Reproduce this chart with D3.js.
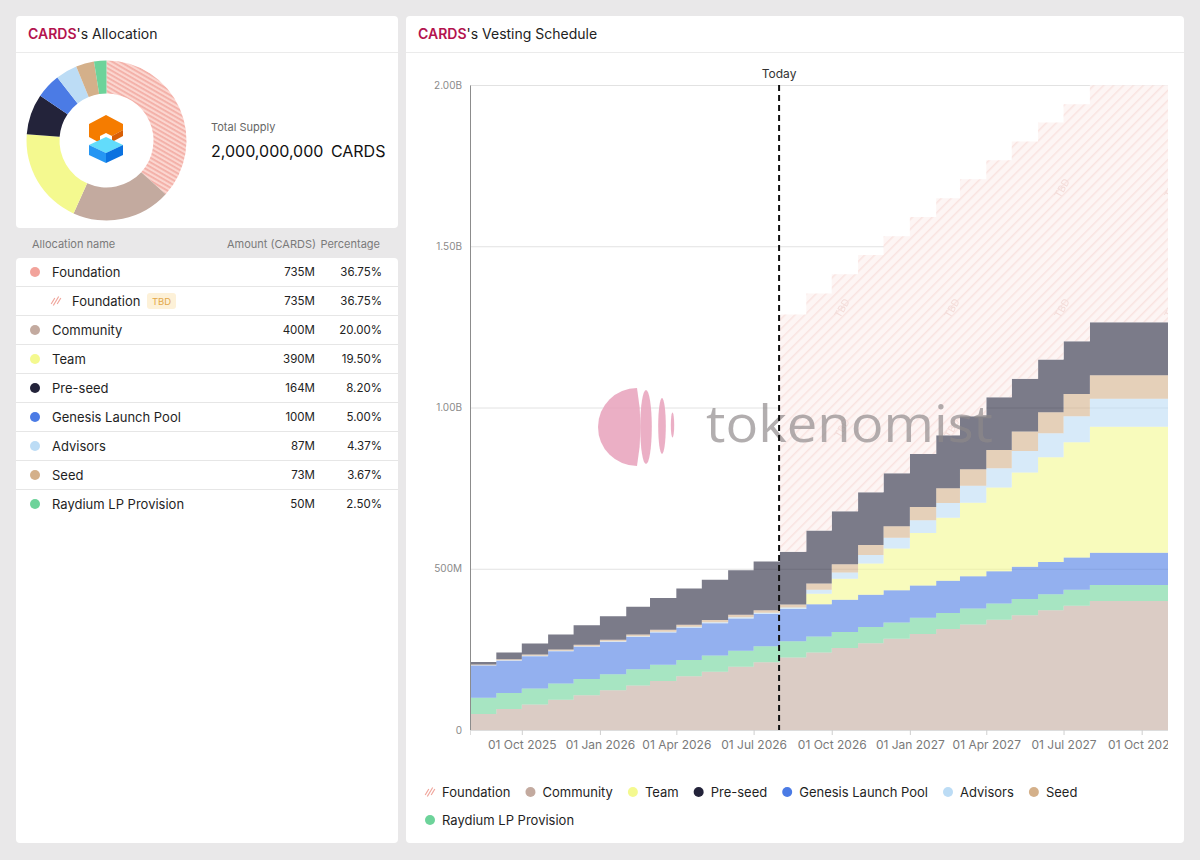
<!DOCTYPE html>
<html>
  <head>
    <meta charset="utf-8">
    <title>CARDS Vesting Schedule</title>
    <script src="https://cdn.jsdelivr.net/npm/d3@7"></script>
    <style>
      body { margin: 0; background: #e9e8e9; }
      svg { font-family: Inter, "Noto Sans", sans-serif; display: block; }
    </style>
  </head>
  <body>
    <script>
      // ==================
      // Allocation (millions of CARDS)
      // ==================
      const allocNames = ["Foundation", "Community", "Team", "Pre-seed", "Genesis Launch Pool", "Advisors", "Seed", "Raydium LP Provision"];
      const allocAmounts = [735, 400, 390, 164, 100, 87.4, 73.4, 50];
      const allocAmountLabels = ["735M", "400M", "390M", "164M", "100M", "87M", "73M", "50M"];
      const allocPercents = ["36.75%", "20.00%", "19.50%", "8.20%", "5.00%", "4.37%", "3.67%", "2.50%"];
      const allocColors = ["#f2a39b", "#c3aa9f", "#f4f98f", "#23233a", "#4b7be5", "#bcdcf5", "#d4b08a", "#6dd39a"];

      // ==================
      // Vesting schedule, cumulative unlocked per month (millions)
      // ==================
      const months = [
        "2025-08-01", "2025-09-01", "2025-10-01", "2025-11-01", "2025-12-01",
        "2026-01-01", "2026-02-01", "2026-03-01", "2026-04-01", "2026-05-01",
        "2026-06-01", "2026-07-01", "2026-08-01", "2026-09-01", "2026-10-01",
        "2026-11-01", "2026-12-01", "2027-01-01", "2027-02-01", "2027-03-01",
        "2027-04-01", "2027-05-01", "2027-06-01", "2027-07-01", "2027-08-01"
      ];
      const community = [50, 65, 79, 94, 108, 123, 138, 152, 167, 181, 196, 210, 225, 240, 254, 269, 283, 298, 313, 327, 342, 356, 371, 385, 400];
      const raydium = [50, 50, 50, 50, 50, 50, 50, 50, 50, 50, 50, 50, 50, 50, 50, 50, 50, 50, 50, 50, 50, 50, 50, 50, 50];
      const genesis = [100, 100, 100, 100, 100, 100, 100, 100, 100, 100, 100, 100, 100, 100, 100, 100, 100, 100, 100, 100, 100, 100, 100, 100, 100];
      const team = [0, 0, 0, 0, 0, 0, 0, 0, 0, 0, 0, 0, 0, 32.5, 65, 97.5, 130, 162.5, 195, 227.5, 260, 292.5, 325, 357.5, 390];
      const advisors = [1, 1, 1.5, 1.5, 2, 2, 2.5, 2.5, 3, 3, 3.5, 3.5, 5, 12, 19, 26, 33, 40, 46, 53, 60, 67, 74, 80, 87];
      const seed = [2, 3, 3.5, 4, 4.5, 5, 5.5, 6, 6.5, 7, 7.5, 8, 9, 20, 26, 31, 36, 41, 46, 51, 56, 60, 65, 69, 73];
      const preSeed = [8, 21, 34, 47, 60, 73, 86, 99, 112, 125, 138, 151, 164, 164, 164, 164, 164, 164, 164, 164, 164, 164, 164, 164, 164];
      const foundationTBD = [0, 0, 0, 0, 0, 0, 0, 0, 0, 0, 0, 0, 735, 735, 735, 735, 735, 735, 735, 735, 735, 735, 735, 735, 735];

      const xStart = "2025-08-01";
      const xEnd = "2027-11-01";
      const todayDate = "2026-07-31";
      const xTickDates = ["2025-10-01", "2026-01-01", "2026-04-01", "2026-07-01", "2026-10-01", "2027-01-01", "2027-04-01", "2027-07-01", "2027-10-01"];
      const yTickValues = [0, 500, 1000, 1500, 2000];
      const yTickLabels = ["0", "500M", "1.00B", "1.50B", "2.00B"];

      // stack order, bottom to top
      const seriesKeys = ["Community", "Raydium LP Provision", "Genesis Launch Pool", "Team", "Advisors", "Seed", "Pre-seed", "Foundation"];
      const seriesValues = [community, raydium, genesis, team, advisors, seed, preSeed, foundationTBD];
      const legendOrder = ["Foundation", "Community", "Team", "Pre-seed", "Genesis Launch Pool", "Advisors", "Seed", "Raydium LP Provision"];

      const colorOf = name => allocColors[allocNames.indexOf(name)];
      const parse = d3.utcParse("%Y-%m-%d");

      const svg = d3.select("body").append("svg")
          .attr("width", 1200)
          .attr("height", 860);
      const defs = svg.append("defs");

      // ---- patterns
      const hatch = defs.append("pattern")
          .attr("id", "hatch")
          .attr("patternUnits", "userSpaceOnUse")
          .attr("width", 7).attr("height", 7)
          .attr("patternTransform", "rotate(45)");
      hatch.append("rect").attr("width", 7).attr("height", 7).attr("fill", "#fdf5f4");
      hatch.append("rect").attr("width", 1.5).attr("height", 7).attr("fill", "#f9e3e0");

      const tbd = defs.append("pattern")
          .attr("id", "tbd")
          .attr("patternUnits", "userSpaceOnUse")
          .attr("width", 110).attr("height", 120)
          .attr("patternTransform", "translate(20,10)");
      tbd.append("text")
          .attr("transform", "translate(55,60) rotate(-60)")
          .attr("text-anchor", "middle")
          .attr("font-size", 10)
          .attr("fill", "#f3dcd9")
          .text("TBD");

      const donutHatch = defs.append("pattern")
          .attr("id", "donutHatch")
          .attr("patternUnits", "userSpaceOnUse")
          .attr("width", 4).attr("height", 4)
          .attr("patternTransform", "rotate(30)");
      donutHatch.append("rect").attr("width", 4).attr("height", 4).attr("fill", "#fbd6d0");
      donutHatch.append("rect").attr("width", 4).attr("height", 1.8).attr("fill", "#f3aea6");

      function hatchIcon(g, cx, cy) {
        [-3, 0, 3].forEach(function(o) {
          const len = o === 0 ? 4.5 : 3;
          g.append("line")
            .attr("x1", cx + o - len * 0.6).attr("y1", cy + len)
            .attr("x2", cx + o + len * 0.6).attr("y2", cy - len)
            .attr("stroke", "#f0a69d")
            .attr("stroke-width", 1.2);
        });
      }

      // ---- cards
      svg.append("rect").attr("x", 16).attr("y", 16).attr("width", 382).attr("height", 212).attr("rx", 4).attr("fill", "#fff");
      svg.append("rect").attr("x", 16).attr("y", 258).attr("width", 382).attr("height", 585).attr("rx", 4).attr("fill", "#fff");
      svg.append("rect").attr("x", 406).attr("y", 16).attr("width", 778).attr("height", 827).attr("rx", 4).attr("fill", "#fff");
      svg.append("line").attr("x1", 16).attr("x2", 398).attr("y1", 52.5).attr("y2", 52.5).attr("stroke", "#ebebeb");
      svg.append("line").attr("x1", 406).attr("x2", 1184).attr("y1", 52.5).attr("y2", 52.5).attr("stroke", "#ebebeb");

      function cardTitle(x, rest) {
        const t = svg.append("text").attr("x", x).attr("y", 39).attr("font-size", 14).attr("fill", "#222");
        t.append("tspan").attr("fill", "#b3134e").attr("font-weight", 600).text("CARDS");
        t.append("tspan").text(rest);
      }
      cardTitle(28, "'s Allocation");
      cardTitle(418, "'s Vesting Schedule");

      // ==================
      // Donut
      // ==================
      const pie = d3.pie().sort(null).value(d => d)(allocAmounts);
      const arc = d3.arc().innerRadius(47).outerRadius(80);
      const donut = svg.append("g").attr("transform", "translate(106.5,140.5)");
      donut.selectAll("path")
        .data(pie)
        .enter().append("path")
          .attr("d", arc)
          .attr("fill", (d, i) => i === 0 ? "url(#donutHatch)" : allocColors[i]);

      // token logo
      const logo = svg.append("g");
      logo.append("path").attr("d", "M89,124 L106,115 L123,124 L123,130 L112,136 L106,133 L100,136 L100,143 L89,137 Z").attr("fill", "#f57c00");
      logo.append("path").attr("d", "M112,136 L123,130 L123,136 L112,142 Z").attr("fill", "#d85f06");
      logo.append("path").attr("d", "M89,145 L106,137 L123,145 L106,153 Z").attr("fill", "#62dcfb");
      logo.append("path").attr("d", "M89,145 L106,153 L106,163 L89,155 Z").attr("fill", "#2596f3");
      logo.append("path").attr("d", "M106,153 L123,145 L123,155 L106,163 Z").attr("fill", "#0b72e0");

      svg.append("text").attr("x", 211).attr("y", 131).attr("font-size", 11).attr("fill", "#666").text("Total Supply");
      svg.append("text").attr("x", 211).attr("y", 157).attr("font-size", 16).attr("fill", "#111")
        .attr("word-spacing", 3).text("2,000,000,000 CARDS");

      // ==================
      // Table
      // ==================
      svg.append("text").attr("x", 32).attr("y", 248).attr("font-size", 11).attr("fill", "#7a7a7a").text("Allocation name");
      svg.append("text").attr("x", 316).attr("y", 248).attr("font-size", 11).attr("fill", "#7a7a7a").attr("text-anchor", "end").text("Amount (CARDS)");
      svg.append("text").attr("x", 380).attr("y", 248).attr("font-size", 11).attr("fill", "#7a7a7a").attr("text-anchor", "end").text("Percentage");

      const tableRows = [];
      allocNames.forEach(function(name, i) {
        tableRows.push({name: name, amount: allocAmountLabels[i], pct: allocPercents[i], color: allocColors[i], sub: false});
        if (i === 0) tableRows.push({name: name, amount: allocAmountLabels[i], pct: allocPercents[i], sub: true});
      });

      const rowH = 29;
      const rows = svg.append("g").selectAll("g")
        .data(tableRows)
        .enter().append("g")
          .attr("transform", (d, i) => "translate(0," + (272 + i * rowH) + ")");

      rows.filter((d, i) => i < tableRows.length - 1).append("line")
        .attr("x1", 16).attr("x2", 398).attr("y1", 14.5).attr("y2", 14.5)
        .attr("stroke", "#e6e6e6");

      rows.filter(d => !d.sub).append("circle")
        .attr("cx", 35).attr("cy", 0).attr("r", 5)
        .attr("fill", d => d.color);
      rows.filter(d => d.sub).each(function() { hatchIcon(d3.select(this), 56, 0); });

      rows.append("text")
        .attr("x", d => d.sub ? 72 : 52)
        .attr("y", 4.5)
        .attr("font-size", 13)
        .attr("fill", "#1f1f1f")
        .text(d => d.name);

      rows.filter(d => d.sub).append("rect")
        .attr("x", 147).attr("y", -8).attr("width", 29).attr("height", 16).attr("rx", 3)
        .attr("fill", "#fdf1d8");
      rows.filter(d => d.sub).append("text")
        .attr("x", 161.5).attr("y", 3.5).attr("text-anchor", "middle")
        .attr("font-size", 9.5).attr("fill", "#e3a84a")
        .text("TBD");

      rows.append("text")
        .attr("x", 315).attr("y", 4).attr("text-anchor", "end")
        .attr("font-size", 11.5).attr("fill", "#222")
        .text(d => d.amount);
      rows.append("text")
        .attr("x", 382).attr("y", 4).attr("text-anchor", "end")
        .attr("font-size", 11.5).attr("fill", "#222")
        .text(d => d.pct);

      // ==================
      // Vesting chart
      // ==================
      const x = d3.scaleUtc()
          .domain([parse(xStart), parse(xEnd)])
          .range([470, 1168]);
      const y = d3.scaleLinear()
          .domain([0, 2000])
          .range([730, 85]);

      const table = months.map(function(m, i) {
        const row = {date: parse(m)};
        seriesKeys.forEach((k, j) => row[k] = seriesValues[j][i]);
        return row;
      });
      // hold the last value until the end of the axis
      table.push(Object.assign({}, table[table.length - 1], {date: parse(xEnd)}));

      const stacked = d3.stack().keys(seriesKeys)(table);

      // grid
      svg.append("g").selectAll("line")
        .data(yTickValues.filter(v => v > 0))
        .enter().append("line")
          .attr("x1", 470).attr("x2", 1168)
          .attr("y1", d => y(d) + 0.5).attr("y2", d => y(d) + 0.5)
          .attr("stroke", "#e2e2e2");

      const area = d3.area()
          .curve(d3.curveStepAfter)
          .x(d => x(d.data.date))
          .y0(d => y(d[0]))
          .y1(d => y(d[1]));

      const layers = svg.append("g");
      layers.selectAll("path")
        .data(stacked)
        .enter().append("path")
          .attr("d", area)
          .attr("fill", d => d.key === "Foundation" ? "url(#hatch)" : colorOf(d.key))
          .attr("fill-opacity", d => d.key === "Foundation" ? 1 : 0.6);
      layers.append("path")
        .attr("d", area(stacked[stacked.length - 1]))
        .attr("fill", "url(#tbd)");

      // axes
      const yAxis = d3.axisLeft(y)
          .tickValues(yTickValues)
          .tickFormat((d, i) => yTickLabels[i])
          .tickSize(0)
          .tickPadding(8);
      const gy = svg.append("g")
          .attr("transform", "translate(470,0)")
          .call(yAxis);
      gy.select(".domain").attr("stroke", "#8c8c8c");
      gy.selectAll("text").attr("font-size", 10).attr("fill", "#8a8a8a").attr("font-family", "Inter, sans-serif");

      defs.append("clipPath").attr("id", "xclip")
        .append("rect").attr("x", 400).attr("y", 700).attr("width", 768).attr("height", 80);
      const xAxis = d3.axisBottom(x)
          .tickValues(xTickDates.map(parse))
          .tickFormat(d3.utcFormat("%d %b %Y"))
          .tickSize(5)
          .tickPadding(5);
      const gx = svg.append("g")
          .attr("clip-path", "url(#xclip)")
          .append("g")
          .attr("transform", "translate(0,730)")
          .call(xAxis);
      gx.select(".domain").attr("stroke", "#dddddd");
      gx.selectAll(".tick line").attr("stroke", "#cfcfcf");
      gx.selectAll("text").attr("font-size", 12).attr("fill", "#7a7a7a").attr("font-family", "Inter, sans-serif");

      // watermark
      const wm = svg.append("g").attr("opacity", 0.85);
      wm.append("path")
        .attr("d", "M637,388 A39,39 0 0 0 637,466 Q644,427 637,388 Z")
        .attr("fill", "#e8a2bc");
      wm.append("ellipse").attr("cx", 646).attr("cy", 427).attr("rx", 5.8).attr("ry", 37).attr("fill", "#e8a2bc");
      wm.append("ellipse").attr("cx", 662).attr("cy", 426).attr("rx", 3.8).attr("ry", 28).attr("fill", "#e8a2bc");
      wm.append("ellipse").attr("cx", 672.5).attr("cy", 425).attr("rx", 1.7).attr("ry", 12.5).attr("fill", "#e8a2bc");
      wm.append("text")
        .attr("x", 706).attr("y", 442)
        .attr("font-size", 52)
        .attr("font-family", "'Open Sans', sans-serif")
        .attr("textLength", 287)
        .attr("lengthAdjust", "spacingAndGlyphs")
        .attr("fill", "#8e898b")
        .attr("fill-opacity", 0.8)
        .text("tokenomist");

      // today marker
      const tx = x(parse(todayDate));
      svg.append("line")
        .attr("x1", tx).attr("x2", tx)
        .attr("y1", 85).attr("y2", 730)
        .attr("stroke", "#111")
        .attr("stroke-width", 2)
        .attr("stroke-dasharray", "6,4");
      svg.append("text")
        .attr("x", tx).attr("y", 78)
        .attr("text-anchor", "middle")
        .attr("font-size", 12)
        .attr("fill", "#333")
        .text("Today");

      // legend
      const legend = svg.append("g");
      let lx = 430, ly = 792;
      legendOrder.forEach(function(name) {
        const item = legend.append("g");
        const label = item.append("text")
          .attr("y", 4.5)
          .attr("font-size", 13)
          .attr("fill", "#1f1f1f")
          .text(name);
        const w = label.node().getComputedTextLength() + 12;
        if (lx + w > 1170) { lx = 430; ly += 28; }
        item.attr("transform", "translate(" + lx + "," + ly + ")");
        label.attr("x", 12);
        if (name === "Foundation") hatchIcon(item, 0, 0);
        else item.append("circle").attr("r", 5).attr("fill", colorOf(name));
        lx += w + 20;
      });
    </script>
  </body>
</html>
